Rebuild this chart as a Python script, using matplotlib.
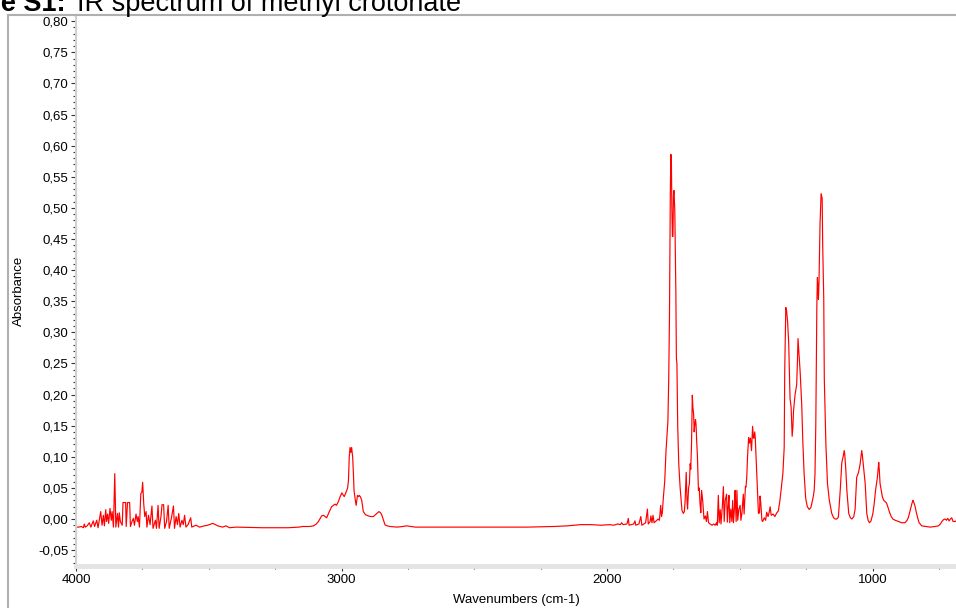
import numpy as np
import matplotlib
matplotlib.use("Agg")
from matplotlib import pyplot as plt
from matplotlib.lines import Line2D
from matplotlib.ticker import MultipleLocator, FuncFormatter

plt.rcParams['font.family'] = ['Liberation Sans', 'DejaVu Sans']

# water vapour lines + OH region, 4000-3200 cm-1
wn_oh = [4000, 3990, 3980, 3972, 3969, 3965, 3958, 3950, 3944, 3935, 3930, 3922, 3917,
         3907, 3902, 3897, 3893, 3888, 3885, 3881, 3877, 3872, 3867, 3864, 3859, 3854,
         3850, 3844, 3840, 3837, 3833, 3826, 3823, 3813, 3811, 3806, 3798, 3795, 3789,
         3784, 3780, 3774, 3769, 3766, 3761, 3756, 3752, 3749, 3745, 3741, 3736, 3733,
         3727, 3721, 3714, 3710, 3701, 3697, 3691, 3687, 3680, 3676, 3670, 3666, 3659,
         3653, 3649, 3641, 3633, 3629, 3623, 3618, 3613, 3608, 3601, 3596, 3591, 3586,
         3578, 3568, 3564, 3554, 3548, 3535, 3517, 3504, 3492, 3485, 3475, 3466, 3448,
         3435, 3422, 3397, 3300, 3200]
ab_oh = [-0.013, -0.013, -0.012, -0.014, -0.008, -0.013, -0.011, -0.006, -0.013, -0.003,
         -0.012, -0.002, -0.014, 0.012, -0.010, 0.006, -0.011, 0.015, -0.004, 0.008,
         -0.007, 0.017, -0.002, 0.012, -0.013, 0.073, -0.013, 0.009, -0.013, 0.010,
         -0.004, -0.010, 0.0265, 0.0265, -0.012, 0.0265, 0.0265, -0.012, -0.004, 0.001,
         -0.010, 0.008, -0.004, 0.004, -0.013, 0.041, 0.043, 0.059, 0.025, 0.004, 0.012,
         -0.013, 0.006, -0.009, 0.021, -0.015, -0.002, -0.015, 0.022, -0.015, 0.004,
         0.023, 0.023, -0.015, -0.004, 0.022, -0.015, 0.001, 0.021, -0.015, 0.004,
         -0.009, 0.009, -0.013, -0.002, -0.009, 0.006, -0.013, -0.009, 0.002, -0.013,
         -0.011, -0.010, -0.013, -0.011, -0.010, -0.008, -0.007, -0.009, -0.011, -0.013,
         -0.011, -0.014, -0.013, -0.014, -0.014]

# C-H stretch region
wn_ch = [3160, 3146, 3120, 3106, 3095, 3087, 3075, 3068, 3062, 3056, 3048, 3037, 3030,
         3025, 3019, 3012, 3006, 2999, 2993, 2990, 2983, 2977, 2974, 2971, 2968, 2965,
         2962, 2958, 2955, 2953, 2948, 2945, 2940, 2936, 2933, 2928, 2924, 2918, 2910,
         2899, 2890, 2880, 2872, 2867, 2859, 2853, 2849, 2842, 2836, 2828, 2817, 2790,
         2770, 2754, 2740, 2722, 2700]
ab_ch = [-0.013, -0.012, -0.012, -0.011, -0.008, -0.004, 0.005, 0.006, 0.004, 0.002,
         0.010, 0.020, 0.022, 0.024, 0.022, 0.028, 0.035, 0.042, 0.038, 0.036, 0.043,
         0.050, 0.062, 0.099, 0.115, 0.107, 0.115, 0.099, 0.070, 0.046, 0.030, 0.022,
         0.038, 0.036, 0.038, 0.035, 0.030, 0.012, 0.007, 0.005, 0.004, 0.004, 0.007,
         0.009, 0.012, 0.010, 0.007, -0.002, -0.0095, -0.011, -0.012, -0.013, -0.012,
         -0.011, -0.012, -0.013, -0.013]

# carbonyl / C=C region
wn_co = [2500, 2400, 2300, 2200, 2150, 2100, 2060, 2023, 1990, 1975, 1960, 1950, 1945,
         1940, 1925, 1920, 1917, 1900, 1895, 1892, 1880, 1873, 1869, 1855, 1848, 1845,
         1838, 1835, 1831, 1827, 1823, 1815, 1808, 1803, 1798, 1795, 1792, 1788, 1783,
         1778, 1771, 1768, 1765, 1762, 1760, 1758, 1756, 1754, 1752, 1750, 1748, 1745,
         1741, 1739, 1737, 1734, 1730, 1725, 1721, 1718, 1713, 1709, 1706, 1702, 1699,
         1697, 1693, 1690, 1687, 1685, 1682, 1679, 1677, 1674, 1672, 1670, 1667, 1665,
         1662, 1660, 1656, 1653, 1650, 1647, 1644, 1640, 1635, 1630, 1626, 1622]
ab_co = [-0.013, -0.013, -0.013, -0.012, -0.011, -0.009, -0.009, -0.010, -0.009, -0.010,
         -0.008, -0.009, -0.006, -0.009, -0.008, 0.001, -0.010, -0.008, -0.003, -0.010,
         -0.008, 0.004, -0.010, -0.006, 0.016, -0.008, -0.004, 0.005, -0.006, 0.006,
         -0.006, -0.003, 0.000, -0.002, 0.022, 0.004, 0.010, 0.035, 0.060, 0.110, 0.157,
         0.221, 0.327, 0.515, 0.586, 0.584, 0.500, 0.454, 0.454, 0.520, 0.528, 0.496,
         0.364, 0.258, 0.250, 0.149, 0.088, 0.051, 0.030, 0.014, 0.009, 0.012, 0.030,
         0.075, 0.030, 0.016, 0.050, 0.057, 0.089, 0.080, 0.120, 0.199, 0.180, 0.168,
         0.140, 0.150, 0.160, 0.152, 0.120, 0.104, 0.046, 0.050, 0.025, 0.010, 0.046,
         0.030, 0.000, 0.005, -0.004, 0.012]

# fingerprint region
wn_fp = [1618, 1612, 1605, 1598, 1593, 1588, 1585, 1581, 1578, 1574, 1571, 1566, 1562,
         1559, 1555, 1550, 1547, 1544, 1541, 1538, 1534, 1530, 1527, 1524, 1520, 1518,
         1514, 1511, 1508, 1504, 1499, 1496, 1492, 1487, 1484, 1479, 1477, 1474, 1471,
         1467, 1464, 1460, 1456, 1452, 1449, 1447, 1444, 1442, 1439, 1436, 1433, 1430,
         1426, 1424, 1421, 1417, 1414, 1408, 1403, 1399, 1394, 1390, 1386, 1382, 1375,
         1368, 1361, 1355, 1349, 1345, 1338, 1333, 1331, 1327, 1324, 1320, 1316, 1311,
         1307, 1303, 1300, 1298, 1292, 1286, 1283, 1281, 1278, 1273, 1267, 1263, 1258,
         1252, 1246, 1239, 1233, 1229, 1224, 1220, 1217, 1214, 1210, 1208, 1205, 1204,
         1202, 1198, 1194, 1190, 1188, 1184, 1182, 1176, 1170, 1163, 1154, 1147, 1141,
         1135, 1129, 1122, 1116, 1112, 1107, 1105, 1101, 1097, 1090, 1084, 1078, 1071,
         1066, 1060, 1053, 1047, 1041, 1038, 1035, 1028, 1022, 1017, 1012, 1006, 999,
         994, 989, 982, 977, 975, 972, 967, 963, 958, 953, 948, 943, 937, 930, 924, 915,
         903, 890, 878, 870, 865, 858, 852, 848, 846, 841, 836, 831, 825, 815, 800, 783,
         765, 752, 745, 739, 733, 727, 722, 717, 712, 707, 702, 697, 690, 686]
ab_fp = [-0.006, -0.008, -0.010, -0.008, -0.010, -0.006, -0.010, 0.038, -0.006, 0.015,
         -0.008, 0.020, 0.052, -0.004, 0.030, 0.040, -0.005, 0.020, 0.038, -0.006, 0.016,
         -0.004, 0.030, -0.006, 0.020, 0.046, -0.004, 0.046, -0.002, 0.015, 0.022, -0.002,
         0.010, 0.040, 0.008, 0.052, 0.051, 0.067, 0.100, 0.131, 0.122, 0.130, 0.110,
         0.149, 0.130, 0.130, 0.140, 0.131, 0.100, 0.073, 0.040, 0.009, 0.010, 0.037,
         0.025, -0.002, -0.004, 0.002, -0.002, 0.011, 0.004, 0.010, 0.0196, 0.006, 0.008,
         0.004, 0.010, 0.013, 0.030, 0.046, 0.073, 0.115, 0.237, 0.340, 0.335, 0.316,
         0.282, 0.194, 0.180, 0.133, 0.150, 0.173, 0.200, 0.216, 0.255, 0.290, 0.270,
         0.237, 0.184, 0.126, 0.073, 0.033, 0.020, 0.0154, 0.018, 0.025, 0.035, 0.046,
         0.073, 0.152, 0.343, 0.388, 0.365, 0.353, 0.380, 0.475, 0.523, 0.515, 0.440,
         0.353, 0.226, 0.120, 0.057, 0.030, 0.009, 0.002, 0.000, 0.000, 0.003, 0.046,
         0.091, 0.098, 0.110, 0.104, 0.080, 0.046, 0.009, 0.002, 0.000, 0.004, 0.0154,
         0.067, 0.075, 0.0885, 0.110, 0.100, 0.087, 0.057, 0.009, -0.002, -0.006, -0.003,
         0.009, 0.025, 0.046, 0.067, 0.091, 0.080, 0.057, 0.045, 0.035, 0.030, 0.028,
         0.026, 0.020, 0.0117, 0.004, 0.000, -0.002, -0.004, -0.006, -0.006, -0.002,
         0.003, 0.015, 0.025, 0.030, 0.028, 0.022, 0.012, 0.003, -0.006, -0.011, -0.012,
         -0.013, -0.012, -0.011, -0.008, -0.004, -0.001, 0.000, -0.002, 0.001, -0.003,
         0.000, 0.002, -0.004, -0.004, -0.003]

wavenumber = np.array(wn_oh + wn_ch + wn_co + wn_fp, dtype=float)
absorbance = np.array(ab_oh + ab_ch + ab_co + ab_fp, dtype=float)

W, H = 956, 608
fig = plt.figure(figsize=(W / 100, H / 100), dpi=100)
ax = fig.add_axes([76 / W, 42 / H, 880 / W, 551 / H])

ax.plot(wavenumber, absorbance, color='#ff0000', lw=0.85)

ax.set_xlim(4000, 686)
ax.set_ylim(-0.0755, 0.81)

ax.xaxis.set_major_locator(MultipleLocator(1000))
ax.xaxis.set_minor_locator(MultipleLocator(250))
ax.yaxis.set_major_locator(MultipleLocator(0.05))
ax.yaxis.set_minor_locator(MultipleLocator(0.01))
ax.yaxis.set_major_formatter(FuncFormatter(lambda v, p: f"{round(v, 2):.2f}".replace('.', ',').replace('-0,00', '0,00')))
ax.xaxis.set_major_formatter(FuncFormatter(lambda v, p: f"{int(round(v))}"))

for s in ['top', 'right']:
    ax.spines[s].set_visible(False)
ax.spines['left'].set_color('#d0d0d0')
ax.spines['left'].set_linewidth(1.5)
ax.spines['bottom'].set_color('#e4e4e4')
ax.spines['bottom'].set_linewidth(3.5)

ax.tick_params(which='major', direction='out', length=3.5, width=0.8, color='#333333',
               labelsize=9.5, pad=2)
ax.tick_params(which='minor', direction='out', length=2, width=0.8, color='#333333')

ax.set_xlabel('Wavenumbers (cm-1)', fontsize=9.5)
ax.set_ylabel('Absorbance', fontsize=9.5)
ax.xaxis.set_label_coords(0.5, -0.05)
ax.yaxis.set_label_coords(-0.058, 0.5)

# outer frame of the figure panel
fig.add_artist(Line2D([8 / W, 8 / W], [0, 1 - 15 / H], color='#b0b0b0', lw=1.5,
                      transform=fig.transFigure))
fig.add_artist(Line2D([8 / W, 1], [1 - 15 / H, 1 - 15 / H], color='#b0b0b0', lw=1.5,
                      transform=fig.transFigure))

# title, cut off at the top-left like the original
fig.text(66 / W, 1 - 11 / H, 'Figure S1:', fontsize=19.5, fontweight='bold',
         ha='right', va='baseline')
fig.text(77 / W, 1 - 11 / H, 'IR spectrum of methyl crotonate', fontsize=19.5,
         ha='left', va='baseline')

fig.savefig('out.png', dpi=100)
